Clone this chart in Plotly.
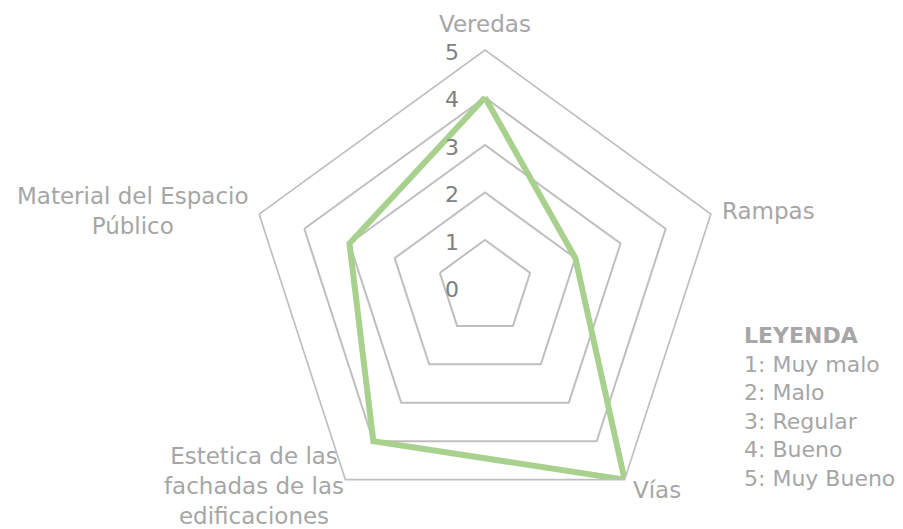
import math
import plotly.graph_objects as go

categorias = ["Veredas", "Rampas", "Vías",
              "Estetica de las fachadas de las edificaciones",
              "Material del Espacio Público"]
etiquetas = ["Veredas", "Rampas", "Vías",
             "Estetica de las<br>fachadas de las<br>edificaciones",
             "Material del Espacio<br>Público"]
valores = [4, 2, 5, 4, 3]
ticks = [0, 1, 2, 3, 4, 5]
leyenda = ["1: Muy malo", "2: Malo", "3: Regular", "4: Bueno", "5: Muy Bueno"]

gris = "#A6A6A6"
fuente = "DejaVu Sans"
# la pagina tiene 8px de margen en el body
OFF = 8
W, H = 903 - OFF, 529 - OFF
cx, cy, R = 485, 287.5, 237.5


def px(x):
    return (x - OFF) / W


def py(y):
    return 1 - (y - OFF) / H


fig = go.Figure()
fig.add_trace(go.Scatterpolar(
    r=valores + valores[:1],
    theta=categorias + categorias[:1],
    mode="lines",
    line=dict(color="#A9D18E", width=6),
    showlegend=False,
))

fig.update_layout(
    width=W, height=H,
    margin=dict(l=0, r=0, t=0, b=0),
    paper_bgcolor="white",
    font=dict(family=fuente, color=gris, size=23),
    polar=dict(
        domain=dict(x=[px(cx - R), px(cx + R)], y=[py(cy + R), py(cy - R)]),
        bgcolor="white",
        gridshape="linear",
        radialaxis=dict(
            range=[0, 5], tickvals=ticks, angle=90, showticklabels=False,
            showline=False, ticks="", gridcolor="#BFBFBF", gridwidth=1.7,
        ),
        angularaxis=dict(
            direction="clockwise", rotation=90, showgrid=False,
            showticklabels=False, linecolor="#BFBFBF", linewidth=1.7, ticks="",
        ),
    ),
)

# etiquetas del eje radial
for t in ticks:
    fig.add_annotation(
        x=px(cx - 33), y=py(cy + 2 - t * R / 5), xref="paper", yref="paper",
        xanchor="center", yanchor="middle", showarrow=False, text=str(t),
        font=dict(family=fuente, color="#7F7F7F", size=22),
    )

# etiquetas de categorias
desplaz = [(0, -26, "center"), (9, -3, "left"), (6, 10, "left"),
           (1, 6, "right"), (-8, -3, "right")]
for i, (txt, (dx, dy, anc)) in enumerate(zip(etiquetas, desplaz)):
    ang = math.radians(90 - 72 * i)
    vx = cx + R * math.cos(ang) + dx
    vy = cy - R * math.sin(ang) + dy
    fig.add_annotation(
        x=px(vx), y=py(vy), xref="paper", yref="paper",
        xanchor=anc, yanchor="middle", align="center", showarrow=False,
        text=txt, font=dict(family=fuente, color=gris, size=23),
    )

fig.add_annotation(
    x=px(742), y=py(321), xref="paper", yref="paper",
    xanchor="left", yanchor="top", align="left", showarrow=False,
    text="<b>LEYENDA</b><br>" + "<br>".join(leyenda),
    font=dict(family=fuente, color=gris, size=22),
)

fig.write_html("out.html")
